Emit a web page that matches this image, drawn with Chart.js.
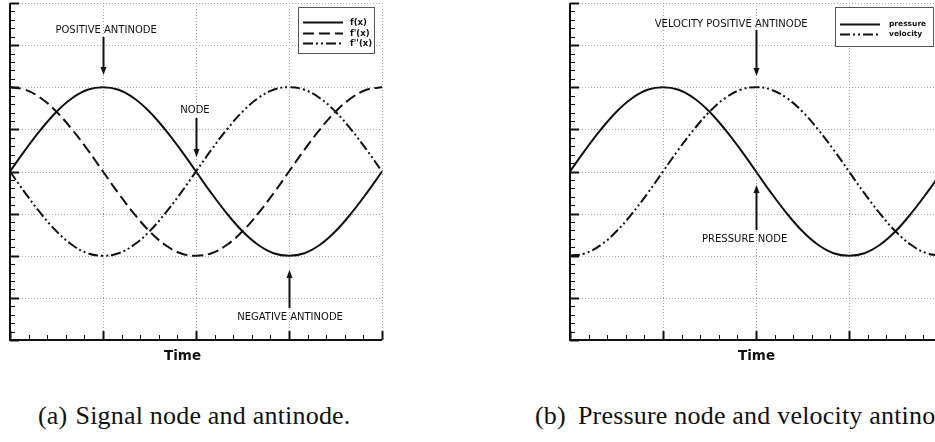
<!DOCTYPE html>
<html>
<head>
<meta charset="utf-8">
<script src="https://cdn.jsdelivr.net/npm/chart.js@4.4.0/dist/chart.umd.min.js"></script>
<style>
    html, body {
        margin: 0;
        padding: 0;
        background: #ffffff;
        width: 935px;
        height: 442px;
        overflow: hidden;
        position: relative;
    }
    .panel {
        position: absolute;
        top: 0;
        width: 400px;
        height: 370px;
    }
    .caption {
        position: absolute;
        top: 403px;
        font-family: "Liberation Serif", serif;
        font-size: 26px;
        line-height: 26px;
        letter-spacing: 0.2px;
        color: #111;
        white-space: nowrap;
    }
</style>
</head>
<body>
<div class="panel" style="left: 0px;"><canvas id="chart-signal"></canvas></div>
<div class="panel" style="left: 560px;"><canvas id="chart-pressure"></canvas></div>
<div class="caption" style="left: 38px;">(a)<span style="margin-left: 8px;">Signal node and antinode.</span></div>
<div class="caption" style="left: 535px;">(b)<span style="margin-left: 12px;">Pressure node and velocity antinode.</span></div>
<script>
// time axis in degrees of phase, one sample every 15 degrees
const angleDeg = [0, 15, 30, 45, 60, 75, 90, 105, 120, 135, 150, 165, 180,
    195, 210, 225, 240, 255, 270, 285, 300, 315, 330, 345, 360];

// panel (a)
const fValues = [0, 0.26, 0.50, 0.71, 0.87, 0.97, 1.00, 0.97, 0.87, 0.71, 0.50, 0.26, 0,
    -0.26, -0.50, -0.71, -0.87, -0.97, -1.00, -0.97, -0.87, -0.71, -0.50, -0.26, 0];
const fPrimeValues = [1.00, 0.97, 0.87, 0.71, 0.50, 0.26, 0, -0.26, -0.50, -0.71, -0.87, -0.97, -1.00,
    -0.97, -0.87, -0.71, -0.50, -0.26, 0, 0.26, 0.50, 0.71, 0.87, 0.97, 1.00];
const fSecondValues = [0, -0.26, -0.50, -0.71, -0.87, -0.97, -1.00, -0.97, -0.87, -0.71, -0.50, -0.26, 0,
    0.26, 0.50, 0.71, 0.87, 0.97, 1.00, 0.97, 0.87, 0.71, 0.50, 0.26, 0];

// panel (b)
const pressureValues = [0, 0.26, 0.50, 0.71, 0.87, 0.97, 1.00, 0.97, 0.87, 0.71, 0.50, 0.26, 0,
    -0.26, -0.50, -0.71, -0.87, -0.97, -1.00, -0.97, -0.87, -0.71, -0.50, -0.26, 0];
const velocityValues = [-1.00, -0.97, -0.87, -0.71, -0.50, -0.26, 0, 0.26, 0.50, 0.71, 0.87, 0.97, 1.00,
    0.97, 0.87, 0.71, 0.50, 0.26, 0, -0.26, -0.50, -0.71, -0.87, -0.97, -1.00];

const signalLabels = ['f(x)', "f'(x)", "f''(x)"];
const pressureLabels = ['pressure', 'velocity'];

const SOLID = [];
const DASHED = [11, 5];
const DASH_DOT_DOT = [10, 3, 2, 3, 2, 3];

// annotation text + arrow, in data units (x in degrees, y in signal units)
const signalNotes = [
    { text: 'POSITIVE ANTINODE', tx: 93, ty: 1.644, ax: 90, from: 1.596, to: 1.145 },
    { text: 'NODE', tx: 179, ty: 0.694, ax: 180, from: 0.635, to: 0.172 },
    { text: 'NEGATIVE ANTINODE', tx: 271, ty: -1.763, ax: 270, from: -1.62, to: -1.169 },
];
const pressureNotes = [
    { text: 'VELOCITY POSITIVE ANTINODE', tx: 156, ty: 1.715, ax: 180, from: 1.68, to: 1.134 },
    { text: 'PRESSURE NODE', tx: 169, ty: -0.837, ax: 180, from: -0.694, to: -0.16 },
];

function toPoints(values) {
    return angleDeg.map((x, i) => ({ x: x, y: values[i] }));
}

function drawArrow(ctx, x, y1, y2) {
    const dir = y2 > y1 ? 1 : -1;
    const head = 8;
    ctx.save();
    ctx.strokeStyle = '#111';
    ctx.fillStyle = '#111';
    ctx.lineWidth = 2;
    ctx.setLineDash([]);
    ctx.beginPath();
    ctx.moveTo(x, y1);
    ctx.lineTo(x, y2 - dir * head);
    ctx.stroke();
    ctx.beginPath();
    ctx.moveTo(x, y2);
    ctx.lineTo(x - 3, y2 - dir * head);
    ctx.lineTo(x + 3, y2 - dir * head);
    ctx.closePath();
    ctx.fill();
    ctx.restore();
}

const tecplotFrame = {
    id: 'tecplotFrame',
    beforeDatasetsDraw(chart) {
        const ctx = chart.ctx;
        const area = chart.chartArea;
        const xs = chart.scales.x;
        const ys = chart.scales.y;
        ctx.save();
        ctx.strokeStyle = '#a8a8a8';
        ctx.lineWidth = 1;
        ctx.setLineDash([1, 2]);
        for (let v = 90; v <= 360; v += 90) {
            const px = Math.round(xs.getPixelForValue(v)) + 0.5;
            ctx.beginPath();
            ctx.moveTo(px, area.top);
            ctx.lineTo(px, area.bottom);
            ctx.stroke();
        }
        for (let k = -3; k <= 4; k++) {
            const py = Math.round(ys.getPixelForValue(k / 2)) + 0.5;
            ctx.beginPath();
            ctx.moveTo(area.left, py);
            ctx.lineTo(area.right, py);
            ctx.stroke();
        }
        ctx.restore();
    },
    afterDatasetsDraw(chart, args, opts) {
        const ctx = chart.ctx;
        const area = chart.chartArea;
        const xs = chart.scales.x;
        const ys = chart.scales.y;
        ctx.save();
        ctx.setLineDash([]);
        ctx.strokeStyle = '#111';

        // inward ticks on left axis
        for (let k = -20; k <= 20; k++) {
            const major = k % 5 === 0;
            const py = Math.round(ys.getPixelForValue(k / 10)) + 0.5;
            ctx.lineWidth = major ? 2 : 1;
            ctx.beginPath();
            ctx.moveTo(area.left, py);
            ctx.lineTo(area.left + (major ? 9 : 5), py);
            ctx.stroke();
        }
        // inward ticks on bottom axis
        for (let v = 0; v <= 360; v += 18) {
            const major = v % 90 === 0;
            const px = Math.round(xs.getPixelForValue(v)) + 0.5;
            ctx.lineWidth = major ? 2 : 1;
            ctx.beginPath();
            ctx.moveTo(px, area.bottom);
            ctx.lineTo(px, area.bottom - (major ? 9 : 5));
            ctx.stroke();
        }
        // axis lines
        ctx.lineWidth = 2;
        ctx.beginPath();
        ctx.moveTo(area.left, area.top);
        ctx.lineTo(area.left, area.bottom);
        ctx.lineTo(area.right, area.bottom);
        ctx.stroke();

        // axis title
        ctx.fillStyle = '#111';
        ctx.font = 'bold 13.5px "DejaVu Sans"';
        ctx.textAlign = 'center';
        ctx.textBaseline = 'alphabetic';
        ctx.fillText('Time', xs.getPixelForValue(opts.timeX), area.bottom + 20);

        // annotations
        ctx.font = '10px "DejaVu Sans"';
        opts.notes.forEach((note) => {
            ctx.fillText(note.text, xs.getPixelForValue(note.tx), ys.getPixelForValue(note.ty));
            const ax = Math.round(xs.getPixelForValue(note.ax)) + 0.5;
            drawArrow(ctx, ax, ys.getPixelForValue(note.from), ys.getPixelForValue(note.to));
        });

        // legend box
        const lg = opts.legend;
        const bx = area.left + lg.x;
        const by = area.top + lg.y;
        ctx.fillStyle = '#ffffff';
        ctx.fillRect(bx, by, lg.w, lg.h);
        ctx.strokeStyle = '#555';
        ctx.lineWidth = 1;
        ctx.strokeRect(bx + 0.5, by + 0.5, lg.w, lg.h);
        ctx.font = lg.font;
        ctx.textAlign = 'left';
        ctx.textBaseline = 'middle';
        chart.data.datasets.forEach((ds, i) => {
            const ry = Math.round(by + lg.firstRow + i * lg.rowGap) + 0.5;
            ctx.strokeStyle = '#111';
            ctx.lineWidth = 2;
            ctx.setLineDash(ds.borderDash);
            ctx.beginPath();
            ctx.moveTo(bx + 5, ry);
            ctx.lineTo(bx + 45, ry);
            ctx.stroke();
            ctx.setLineDash([]);
            ctx.fillStyle = '#111';
            ctx.fillText(ds.label, bx + lg.textX, ry);
        });
        ctx.restore();
    }
};

function makeDataset(label, values, dash) {
    return {
        label: label,
        data: toPoints(values),
        borderColor: '#111',
        borderWidth: 2,
        borderDash: dash,
        pointRadius: 0,
        tension: 0.4,
        fill: false,
        clip: 4,
    };
}

function createChart(canvasId, datasets, notes, legend, timeX) {
    return new Chart(document.getElementById(canvasId).getContext('2d'), {
        type: 'line',
        data: { datasets },
        plugins: [tecplotFrame],
        options: {
            responsive: true,
            maintainAspectRatio: false,
            animation: false,
            events: [],
            layout: {
                padding: { left: 10, top: 3, right: 18, bottom: 30 },
            },
            scales: {
                x: { type: 'linear', min: 0, max: 360, display: false },
                y: { type: 'linear', min: -2, max: 2, display: false },
            },
            plugins: {
                legend: { display: false },
                tooltip: { enabled: false },
                tecplotFrame: { notes, legend, timeX },
            },
        },
    });
}

createChart('chart-signal', [
    makeDataset(signalLabels[0], fValues, SOLID),
    makeDataset(signalLabels[1], fPrimeValues, DASHED),
    makeDataset(signalLabels[2], fSecondValues, DASH_DOT_DOT),
], signalNotes, { x: 288, y: 4, w: 76, h: 46, firstRow: 15, rowGap: 10.5, textX: 52, font: 'bold 8.5px "DejaVu Sans"' }, 167);

createChart('chart-pressure', [
    makeDataset(pressureLabels[0], pressureValues, SOLID),
    makeDataset(pressureLabels[1], velocityValues, DASH_DOT_DOT),
], pressureNotes, { x: 265, y: 4, w: 98, h: 39, firstRow: 17, rowGap: 10, textX: 54, font: 'bold 7.5px "DejaVu Sans"' }, 180.5);
</script>
</body>
</html>
